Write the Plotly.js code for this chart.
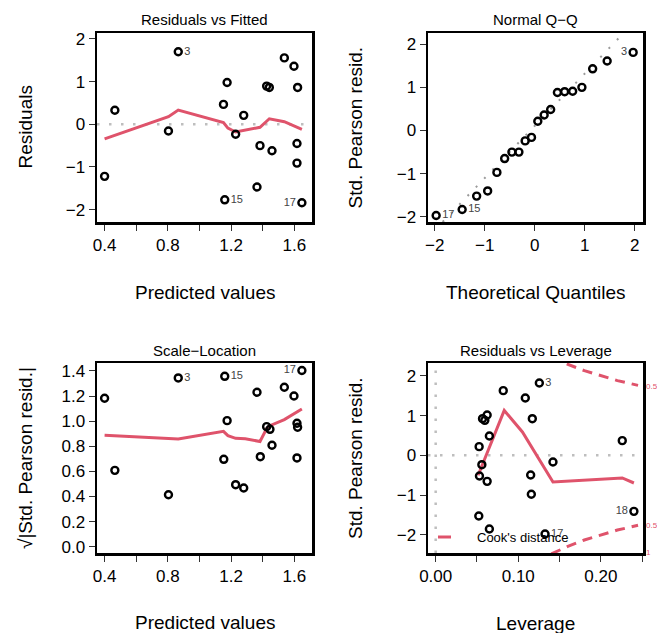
<!DOCTYPE html>
<html>
<head>
<meta charset="utf-8">
<script src="https://cdn.plot.ly/plotly-3.0.1.min.js"></script>
<style>html,body{margin:0;padding:0;background:#fff;}#chart{width:657px;height:633px;}</style>
</head>
<body>
<div id="chart"></div>
<script>
// ---------- Data ----------
// Panel 1: Residuals vs Fitted
const fittedVals = [0.400, 0.465, 0.804, 0.866, 1.152, 1.175, 1.160, 1.229, 1.280, 1.364, 1.383, 1.425, 1.442, 1.459, 1.537, 1.598, 1.617, 1.621, 1.617, 1.648];
const residVals  = [-1.22, 0.33, -0.156, 1.70, 0.467, 0.98, -1.77, -0.233, 0.21, -1.47, -0.50, 0.895, 0.864, -0.62, 1.556, 1.36, -0.45, 0.864, -0.91, -1.84];
const rfLabelIdx = [3, 6, 19];
const rfLabelTxt = ['3', '15', '17'];
const rfLabelPos = ['middle right', 'middle right', 'middle left'];
const rfSmoothX = [0.400, 0.804, 0.866, 1.152, 1.180, 1.229, 1.383, 1.442, 1.537, 1.648];
const rfSmoothY = [-0.343, 0.177, 0.334, 0.04, -0.09, -0.18, -0.07, 0.13, 0.06, -0.12];

// Panel 2: Normal Q-Q
const theoQ = [-1.97, -1.45, -1.16, -0.94, -0.755, -0.60, -0.455, -0.315, -0.19, -0.063, 0.063, 0.19, 0.32, 0.455, 0.60, 0.76, 0.945, 1.16, 1.45, 1.97];
const stdResidSorted = [-1.97, -1.83, -1.52, -1.40, -0.97, -0.65, -0.50, -0.50, -0.24, -0.16, 0.216, 0.36, 0.486, 0.88, 0.90, 0.91, 1.00, 1.43, 1.61, 1.81];
const qqLabelIdx = [0, 1, 19];
const qqLabelTxt = ['17', '15', '3'];
const qqLabelPos = ['middle right', 'middle right', 'middle left'];
const qqLineX = [-1.84, 1.78];
const qqLineY = [-2.12, 2.26];

// Panel 3: Scale-Location
const slFitted = [0.400, 0.465, 0.804, 0.866, 1.154, 1.160, 1.175, 1.229, 1.280, 1.364, 1.385, 1.425, 1.446, 1.459, 1.537, 1.598, 1.617, 1.621, 1.617, 1.648];
const slVals   = [1.182, 0.608, 0.414, 1.344, 0.696, 1.357, 1.004, 0.494, 0.468, 1.23, 0.717, 0.956, 0.935, 0.808, 1.27, 1.20, 0.983, 0.951, 0.707, 1.403];
const slLabelIdx = [3, 5, 19];
const slLabelTxt = ['3', '15', '17'];
const slLabelPos = ['middle right', 'middle right', 'middle left'];
const slSmoothX = [0.400, 0.804, 0.866, 1.152, 1.180, 1.229, 1.290, 1.383, 1.425, 1.442, 1.537, 1.648];
const slSmoothY = [0.887, 0.866, 0.858, 0.919, 0.885, 0.863, 0.860, 0.838, 0.94, 0.962, 1.012, 1.097];

// Panel 4: Residuals vs Leverage
const levVals   = [0.0526, 0.0530, 0.0522, 0.0559, 0.0567, 0.0595, 0.0623, 0.0623, 0.0650, 0.0650, 0.0818, 0.1085, 0.1150, 0.1170, 0.1158, 0.1255, 0.1324, 0.1420, 0.2259, 0.2400];
const levResid  = [0.218, -0.52, -1.526, -0.235, 0.922, 0.88, 1.015, -0.654, 0.486, -1.853, 1.627, 1.442, -0.495, 0.922, -0.98, 1.82, -1.98, -0.168, 0.369, -1.409];
const lvLabelIdx = [15, 16, 19];
const lvLabelTxt = ['3', '17', '18'];
const lvLabelPos = ['middle right', 'middle right', 'middle left'];
const lvSmoothX = [0.0514, 0.0830, 0.1050, 0.1420, 0.2259, 0.2400];
const lvSmoothY = [-0.50, 1.13, 0.587, -0.671, -0.570, -0.696];
const cookH     = [0.140, 0.160, 0.180, 0.200, 0.220, 0.245];
const cookUpper = [2.48, 2.29, 2.13, 2.00, 1.88, 1.76];
const cookLower = [-2.48, -2.29, -2.13, -2.00, -1.88, -1.76];
const cookLabelTxt = ['0.5', '0.5', '1'];
const cookLabelY   = [1.736, -1.77, -2.44];

// ---------- Styling ----------
const FONT = 'Liberation Sans, Arial, Helvetica, sans-serif';
const RED = '#DF536B';
const W = 657, H = 633;
const px = v => v / W;
const py = v => 1 - v / H;

function pick(arr, idx) { return idx.map(i => arr[i]); }

function pts(x, y, xa, ya) {
  return {x: x, y: y, xaxis: xa, yaxis: ya, type: 'scatter', mode: 'markers', hoverinfo: 'skip',
    marker: {symbol: 'circle-open', size: 7, color: '#000', line: {width: 2.4, color: '#000'}}};
}
function lbls(x, y, idx, txt, pos, xa, ya) {
  return {x: pick(x, idx), y: pick(y, idx), text: txt, textposition: pos, xaxis: xa, yaxis: ya,
    type: 'scatter', mode: 'markers+text', hoverinfo: 'skip', cliponaxis: false,
    marker: {size: 8, opacity: 0, color: '#fff'},
    textfont: {family: FONT, size: 11, color: '#444444'}};
}
function line(x, y, xa, ya, color, width, dash) {
  return {x: x, y: y, xaxis: xa, yaxis: ya, type: 'scatter', mode: 'lines', hoverinfo: 'skip',
    line: {color: color, width: width, dash: dash || 'solid'}};
}

const traces = [
  line(rfSmoothX, rfSmoothY, 'x', 'y', RED, 3),
  pts(fittedVals, residVals, 'x', 'y'),
  lbls(fittedVals, residVals, rfLabelIdx, rfLabelTxt, rfLabelPos, 'x', 'y'),

  line(qqLineX, qqLineY, 'x2', 'y2', '#9a9a9a', 2, '2px,10px'),
  pts(theoQ, stdResidSorted, 'x2', 'y2'),
  lbls(theoQ, stdResidSorted, qqLabelIdx, qqLabelTxt, qqLabelPos, 'x2', 'y2'),

  line(slSmoothX, slSmoothY, 'x3', 'y3', RED, 3),
  pts(slFitted, slVals, 'x3', 'y3'),
  lbls(slFitted, slVals, slLabelIdx, slLabelTxt, slLabelPos, 'x3', 'y3'),

  line(cookH, cookUpper, 'x4', 'y4', RED, 3, '10px,7px'),
  line(cookH, cookLower, 'x4', 'y4', RED, 3, '10px,7px'),
  line(lvSmoothX, lvSmoothY, 'x4', 'y4', RED, 3),
  pts(levVals, levResid, 'x4', 'y4'),
  lbls(levVals, levResid, lvLabelIdx, lvLabelTxt, lvLabelPos, 'x4', 'y4')
];

function axis(domain, range, tickvals, ticktext) {
  return {domain: domain, range: range, tickvals: tickvals, ticktext: ticktext,
    showgrid: false, zeroline: false, showline: true, mirror: true, linecolor: '#000', linewidth: 2.5,
    ticks: 'outside', ticklen: 6, tickwidth: 1, tickcolor: '#333',
    tickfont: {family: FONT, size: 17, color: '#000'}, fixedrange: true, automargin: false};
}

const xd1 = [px(97), px(312)], xd2 = [px(428), px(643)];
const yd1 = [py(222), py(33)], yd2 = [py(553), py(363)];

const annots = [];
function txt(text, x, y, size, opts) {
  annots.push(Object.assign({text: text, x: x, y: y, xref: 'paper', yref: 'paper', showarrow: false,
    xanchor: 'center', yanchor: 'middle', font: {family: FONT, size: size, color: '#000'}}, opts || {}));
}
// panel titles
txt('Residuals vs Fitted', px(204.5), py(20), 15);
txt('Normal Q\u2212Q', px(535.5), py(20), 15);
txt('Scale\u2212Location', px(204.5), py(351), 15);
txt('Residuals vs Leverage', px(535.5), py(351), 15);
// axis titles
txt('Predicted values', px(204.5), py(292), 19);
txt('Theoretical Quantiles', px(535.5), py(292), 19);
txt('Predicted values', px(204.5), py(622), 19);
txt('Leverage', px(535.5), py(623), 19);
txt('Residuals', px(25), py(127.5), 19, {textangle: -90});
txt('Std. Pearson resid.', px(355), py(127.5), 19, {textangle: -90});
txt('\u221A|Std. Pearson resid.|', px(25), py(458), 19, {textangle: -90});
txt('Std. Pearson resid.', px(355), py(458), 19, {textangle: -90});
// Cook's distance contour labels
for (let i = 0; i < cookLabelTxt.length; i++) {
  annots.push({text: cookLabelTxt[i], x: px(645), y: cookLabelY[i], xref: 'paper', yref: 'y4', showarrow: false,
    xanchor: 'left', yanchor: 'middle', borderpad: 0, font: {family: FONT, size: 8, color: RED}});
}
// legend text
txt("Cook's distance", px(475), py(537), 13, {xanchor: 'left'});

const dotted = {color: '#bebebe', width: 2.5, dash: '2.5px,9.5px'};
const shapes = [
  {type: 'line', xref: 'x domain', yref: 'y', x0: 0, x1: 1, y0: 0, y1: 0, line: dotted, layer: 'below'},
  {type: 'line', xref: 'x4 domain', yref: 'y4', x0: 0, x1: 1, y0: 0, y1: 0, line: dotted, layer: 'below'},
  {type: 'line', xref: 'x4', yref: 'y4 domain', x0: 0, x1: 0, y0: 0, y1: 1, line: dotted, layer: 'below'},
  {type: 'line', xref: 'paper', yref: 'paper', x0: px(438), x1: px(451), y0: py(537), y1: py(537),
    line: {color: RED, width: 3}}
];

const layout = {
  width: W, height: H, autosize: false,
  margin: {l: 0, r: 0, t: 0, b: 0, pad: 0},
  paper_bgcolor: '#fff', plot_bgcolor: '#fff', showlegend: false,
  font: {family: FONT, color: '#000'},
  xaxis:  Object.assign(axis(xd1, [0.352, 1.712], [0.4, 0.6, 0.8, 1.0, 1.2, 1.4, 1.6], ['0.4', '', '0.8', '', '1.2', '', '1.6']), {anchor: 'y'}),
  yaxis:  Object.assign(axis(yd1, [-2.29, 2.14], [-2, -1, 0, 1, 2], ['\u22122', '\u22121', '0', '1', '2']), {anchor: 'x'}),
  xaxis2: Object.assign(axis(xd2, [-2.133, 2.167], [-2, -1, 0, 1, 2], ['\u22122', '\u22121', '0', '1', '2']), {anchor: 'y2'}),
  yaxis2: Object.assign(axis(yd1, [-2.12, 2.26], [-2, -1, 0, 1, 2], ['\u22122', '\u22121', '0', '1', '2']), {anchor: 'x2'}),
  xaxis3: Object.assign(axis(xd1, [0.352, 1.712], [0.4, 0.6, 0.8, 1.0, 1.2, 1.4, 1.6], ['0.4', '', '0.8', '', '1.2', '', '1.6']), {anchor: 'y3'}),
  yaxis3: Object.assign(axis(yd2, [-0.05, 1.463], [0, 0.2, 0.4, 0.6, 0.8, 1.0, 1.2, 1.4], ['0.0', '0.2', '0.4', '0.6', '0.8', '1.0', '1.2', '1.4']), {anchor: 'x3'}),
  xaxis4: Object.assign(axis(xd2, [-0.0093, 0.251], [0, 0.05, 0.10, 0.15, 0.20, 0.25], ['0.00', '', '0.10', '', '0.20', '']), {anchor: 'y4'}),
  yaxis4: Object.assign(axis(yd2, [-2.457, 2.323], [-2, -1, 0, 1, 2], ['\u22122', '\u22121', '0', '1', '2']), {anchor: 'x4'}),
  annotations: annots,
  shapes: shapes
};

Plotly.newPlot('chart', traces, layout, {staticPlot: true, displayModeBar: false});
</script>
</body>
</html>
